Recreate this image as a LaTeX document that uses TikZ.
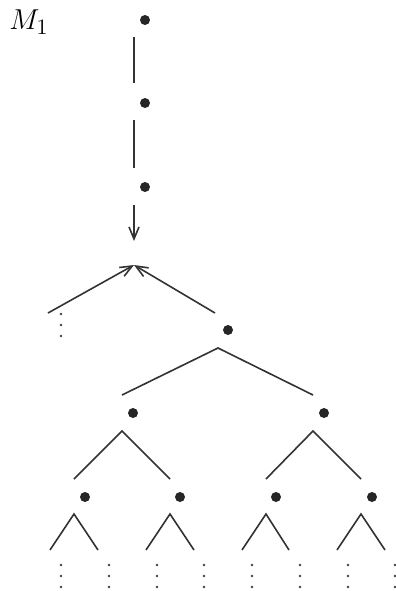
\documentclass[tikz,border=0pt]{standalone}
\usetikzlibrary{arrows.meta}
\begin{document}
\begin{tikzpicture}[x=0.5pt,y=-0.5pt,
  edge/.style={line width=0.8pt, draw=black!80},
  tip/.style={-{Straight Barb[length=6pt,width=5pt,line width=0.8pt]}},
  bigdot/.style={circle, fill=black!85, inner sep=0pt, minimum size=5pt},
  smalldot/.style={circle, fill=black!75, inner sep=0pt, minimum size=1.4pt}]
\useasboundingbox (0,0) rectangle (396,591);
\node[font=\fontsize{15}{15}\selectfont] (lab) at (29,22) {$M_1$};
% top chain
\node[bigdot] (d1) at (145,20) {};
\node[bigdot] (d2) at (145,103) {};
\node[bigdot] (d3) at (145,187) {};
\coordinate (l1a) at (134,37); \coordinate (l1b) at (134,83);
\coordinate (l2a) at (134,120); \coordinate (l2b) at (134,168);
\coordinate (l3a) at (134,205); \coordinate (l3b) at (134,241);
\draw[edge] (l1a) -- (l1b);
\draw[edge] (l2a) -- (l2b);
\draw[edge,tip] (l3a) -- (l3b);
% apex with two incoming arrows
\coordinate (A) at (134,265);
\coordinate (AL) at (48,313);
\coordinate (AR) at (215,313);
\draw[edge,tip] (AL) -- (A);
\draw[edge,tip] (AR) -- (A);
\foreach \y [count=\i] in {314,325,336} \node[smalldot] (vl\i) at (61,\y) {};
% level 1
\node[bigdot] (d4) at (228,330) {};
\coordinate (B) at (218,348);
\coordinate (BL) at (122,395);
\coordinate (BR) at (313,395);
\draw[edge] (BL) -- (B) -- (BR);
% level 2
\node[bigdot] (d5) at (133,413) {};
\node[bigdot] (d6) at (324,413) {};
\coordinate (C1) at (122,431);
\coordinate (C1L) at (74,479);
\coordinate (C1R) at (170,479);
\coordinate (C2) at (313,431);
\coordinate (C2L) at (266,479);
\coordinate (C2R) at (361,479);
\draw[edge] (C1L) -- (C1) -- (C1R);
\draw[edge] (C2L) -- (C2) -- (C2R);
% level 3
\foreach \x/\a/\l/\r [count=\i] in {85/74/50/98, 180/170/146/194, 276/266/242/289, 372/361/337/385}{
  \node[bigdot] (e\i) at (\x,497) {};
  \coordinate (E\i) at (\a,514);
  \coordinate (E\i L) at (\l,550);
  \coordinate (E\i R) at (\r,550);
  \draw[edge] (E\i L) -- (E\i) -- (E\i R);
}
\foreach \x [count=\i] in {61,109,157,204,252,300,348,395}{
  \foreach \y [count=\j] in {565,576,587} \node[smalldot] (v\i-\j) at (\x,\y) {};
}
\end{tikzpicture}
\end{document}
